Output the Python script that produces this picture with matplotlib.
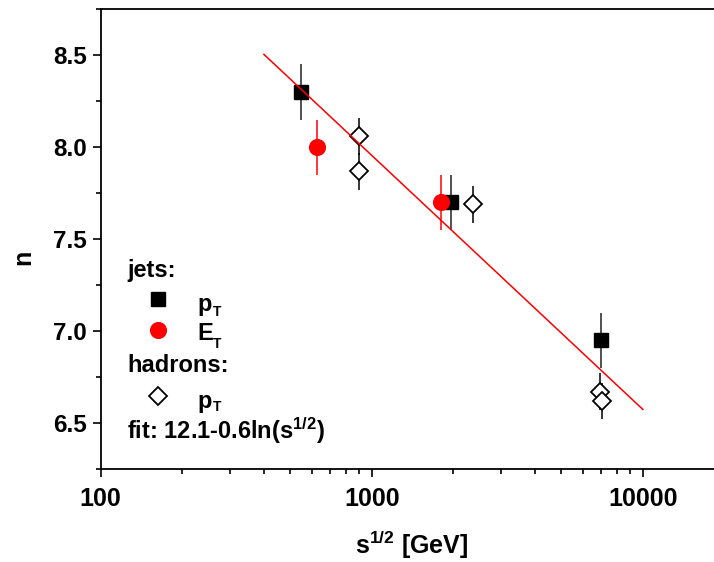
import matplotlib
matplotlib.use("Agg")
import matplotlib.pyplot as plt
from matplotlib.ticker import FixedLocator, NullFormatter, LogLocator

plt.rcParams['font.family'] = ['Liberation Sans', 'DejaVu Sans']
plt.rcParams['font.weight'] = 'bold'
plt.rcParams['mathtext.fontset'] = 'custom'
plt.rcParams['mathtext.rm'] = 'Liberation Sans:bold'
plt.rcParams['mathtext.it'] = 'Liberation Sans:bold'
plt.rcParams['mathtext.bf'] = 'Liberation Sans:bold'

# ---- data ----
jets_pt_x = [546, 1960, 7000]
jets_pt_y = [8.30, 7.70, 6.95]
jets_pt_err = [0.15, 0.15, 0.15]

jets_et_x = [630, 1800]
jets_et_y = [8.00, 7.70]
jets_et_err = [0.15, 0.15]

had_pt_x = [900, 900, 2360, 6950, 7050]
had_pt_y = [8.06, 7.87, 7.69, 6.67, 6.62]
had_pt_err = [0.10, 0.10, 0.10, 0.10, 0.10]

fit_x = [400, 10000]
fit_y = [8.505, 6.574]

y_ticks = [6.5, 7.0, 7.5, 8.0, 8.5]
x_ticks = [100, 1000, 10000]
x_ticklabels = ['100', '1000', '10000']

W, H = 714, 562
fig = plt.figure(figsize=(W / 100, H / 100), dpi=100)
L, R, T, B = 100.7, 714, 9.3, 469
ax = fig.add_axes([L / W, 1 - B / H, (R - L) / W, (B - T) / H])

ax.set_xscale('log')
ax.set_xlim(100, 18300)
ax.set_ylim(6.25, 8.75)

# data
ax.errorbar(jets_pt_x, jets_pt_y, yerr=jets_pt_err, fmt='s', color='black',
            ms=10, ecolor='#222222', elinewidth=1.1, capsize=0, zorder=3)
ax.errorbar(had_pt_x, had_pt_y, yerr=had_pt_err, fmt='D', mfc='white', mec='black',
            mew=1.3, ms=9.5, ecolor='black', elinewidth=1.1, capsize=0, zorder=3)
ax.errorbar(jets_et_x, jets_et_y, yerr=jets_et_err, fmt='o', color='#ff0000',
            ms=11.3, ecolor='#ff0000', elinewidth=1.1, capsize=0, zorder=4)
ax.plot(fit_x, fit_y, color='#ff0000', lw=1.1, zorder=5)

# ticks
ax.set_xticks(x_ticks)
ax.set_xticklabels(x_ticklabels)
ax.xaxis.set_minor_locator(LogLocator(base=10, subs=range(2, 10)))
ax.xaxis.set_minor_formatter(NullFormatter())
ax.set_yticks(y_ticks)
ax.set_yticklabels([f'{v:.1f}' for v in y_ticks])
ax.yaxis.set_minor_locator(FixedLocator([6.25, 6.75, 7.25, 7.75, 8.25, 8.75]))

ax.tick_params(axis='both', which='major', direction='out', length=6, width=1.2)
ax.tick_params(axis='both', which='minor', direction='out', length=3.5, width=1.2)
ax.tick_params(axis='x', which='major', labelsize=18, pad=7)
ax.tick_params(axis='y', which='major', labelsize=17.5, pad=4)
ax.tick_params(top=False, right=False, which='both')
for lab in ax.get_xticklabels() + ax.get_yticklabels():
    lab.set_fontweight('bold')

for s in ['left', 'bottom', 'top']:
    ax.spines[s].set_linewidth(1.3)
ax.spines['right'].set_visible(False)

# axis labels
fig.text(411.7 / W, 1 - 545 / H, r's$^{1/2}$ [GeV]', fontsize=18, fontweight='bold',
         ha='center', va='center')
fig.text(23 / W, 1 - 257 / H, 'n', fontsize=18, fontweight='bold', rotation=90,
         ha='center', va='center')

# in-plot legend
def fx(px):
    return (px - L) / (R - L)

def fy(py):
    return (B - py) / (B - T)

tr = ax.transAxes
ax.text(fx(127.3), fy(276.7), 'jets:', transform=tr, fontsize=17, fontweight='bold', va='baseline')
ax.plot([fx(157.7)], [fy(299.3)], 's', color='black', ms=10, transform=tr, clip_on=False)
ax.text(fx(197.7), fy(310.5), 'p', transform=tr, fontsize=17, fontweight='bold', va='baseline')
ax.text(fx(213.0), fy(316.0), 'T', transform=tr, fontsize=10, fontweight='bold', va='baseline')
ax.plot([fx(157.7)], [fy(330)], 'o', color='#ff0000', ms=11.3, transform=tr, clip_on=False)
ax.text(fx(197.7), fy(340), 'E', transform=tr, fontsize=17, fontweight='bold', va='baseline')
ax.text(fx(212.7), fy(348.0), 'T', transform=tr, fontsize=10, fontweight='bold', va='baseline')
ax.text(fx(127.3), fy(371.7), 'hadrons:', transform=tr, fontsize=17, fontweight='bold', va='baseline')
ax.plot([fx(157.7)], [fy(395.7)], 'D', mfc='white', mec='black', mew=1.3, ms=9.5,
        transform=tr, clip_on=False)
ax.text(fx(197.7), fy(407.7), 'p', transform=tr, fontsize=17, fontweight='bold', va='baseline')
ax.text(fx(213.0), fy(411.0), 'T', transform=tr, fontsize=10, fontweight='bold', va='baseline')
ax.text(fx(127.3), fy(438.5), r'fit: 12.1-0.6ln(s$^{1/2}$)', transform=tr, fontsize=17,
        fontweight='bold', va='baseline')

fig.savefig('out.png', dpi=100)
